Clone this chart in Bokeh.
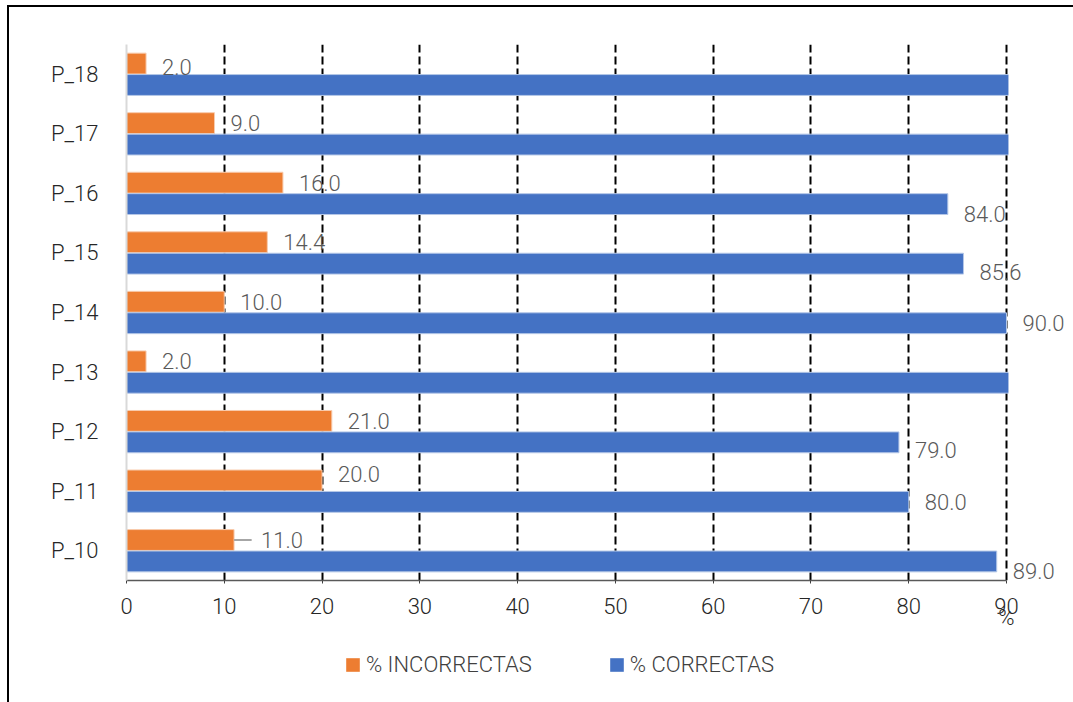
from bokeh.plotting import figure
from bokeh.layouts import column
from bokeh.models import (Range1d, FixedTicker, Legend, LegendItem, ColumnDataSource, LabelSet,
                          LinearAxis, BoxAnnotation)
from bokeh.core.properties import value
from bokeh.embed import file_html
from bokeh.resources import INLINE

categories = ["P_10", "P_11", "P_12", "P_13", "P_14", "P_15", "P_16", "P_17", "P_18"]
incorrectas = [11.0, 20.0, 21.0, 2.0, 10.0, 14.4, 16.0, 9.0, 2.0]
correctas = [89.0, 80.0, 79.0, 98.0, 90.0, 85.6, 84.0, 91.0, 98.0]
x_ticks = [0, 10, 20, 30, 40, 50, 60, 70, 80, 90]
series_names = ["% INCORRECTAS", "% CORRECTAS"]
axis_unit = "%"

# label vertical nudges (screen px), purely cosmetic
inc_nudge = [0, 6, 0, 0, 0, 0, 0, 0, -3]
cor_nudge = [-10, 0, -8, 0, 0, -8, -10, 0, 0]

FONT = "Roboto Light"
ORANGE = "#ED7D31"
BLUE = "#4472C4"
XMAX = 90

W = 1064
PLOT_H = 630
LEG_H = 65
FR_LEFT = 117
FR_TOP = 37
FR_BOTTOM = 573
AX_PX = 880  # pixels from 0 to XMAX
x_end = XMAX * (W - FR_LEFT) / AX_PX

n = len(categories)
ypos = [i + 0.5 for i in range(n)]
off = 0.18
bh = 0.35

p = figure(width=W, height=PLOT_H, output_backend="svg", toolbar_location=None,
           x_range=Range1d(0, x_end), y_range=Range1d(0, n),
           min_border_left=FR_LEFT, min_border_right=0, min_border_top=FR_TOP,
           min_border_bottom=PLOT_H - FR_BOTTOM)
p.outline_line_color = None
p.background_fill_color = "white"
p.border_fill_color = "white"

src_i = ColumnDataSource(dict(y=[v + off for v in ypos], x=incorrectas))
src_c = ColumnDataSource(dict(y=[v - off for v in ypos], x=correctas))
r_i = p.hbar(y="y", right="x", left=0, height=bh, source=src_i, fill_color=ORANGE,
             line_color="#F8CBAD", line_width=1)
r_c = p.hbar(y="y", right="x", left=0, height=bh, source=src_c, fill_color=BLUE,
             line_color="#B4C7E7", line_width=1)

p.segment(x0=[incorrectas[0]], x1=[incorrectas[0] + 1.8], y0=[ypos[0] + off], y1=[ypos[0] + off],
          line_color="#A6A6A6", line_width=2)

# bars beyond the axis maximum are cut at the plot edge, like the original
p.add_layout(BoxAnnotation(left=XMAX + 0.2, fill_color="white", fill_alpha=1.0, line_color=None))

def lbl_src(vals, ys, nudges, extra):
    xs, yy, tt, dy, dx = [], [], [], [], []
    for k, (v, y, nd) in enumerate(zip(vals, ys, nudges)):
        if v <= XMAX:
            xs.append(v); yy.append(y); tt.append(f"{v:.1f}"); dy.append(nd); dx.append(16 + extra.get(k, 0))
    return ColumnDataSource(dict(x=xs, y=yy, t=tt, dy=dy, dx=dx))

for vals, ys, nud, extra in [(incorrectas, [v + off for v in ypos], inc_nudge, {0: 11}),
                             (correctas, [v - off for v in ypos], cor_nudge, {})]:
    p.add_layout(LabelSet(x="x", y="y", text="t", source=lbl_src(vals, ys, nud, extra),
                          x_offset="dx", y_offset="dy", text_font=value(FONT),
                          text_font_size=value("22px"), text_color="#595959",
                          text_align="left", text_baseline="middle"))

p.xaxis.ticker = FixedTicker(ticks=x_ticks)
p.xaxis.bounds = (0, XMAX)
p.xaxis.axis_line_color = "#595959"
p.xaxis.axis_line_width = 1.5
p.xaxis.major_tick_line_color = "#404040"
p.xaxis.major_tick_out = 3
p.xaxis.major_tick_in = 0
p.xaxis.minor_tick_line_color = None
p.xaxis.major_label_text_font = FONT
p.xaxis.major_label_text_font_size = "22px"
p.xaxis.major_label_text_color = "#262626"
p.xaxis.major_label_standoff = 14

ax2 = LinearAxis(ticker=FixedTicker(ticks=[XMAX]), major_label_overrides={XMAX: axis_unit},
                 axis_line_color=None, major_tick_line_color=None, minor_tick_line_color=None,
                 major_label_standoff=-18, major_label_text_font=FONT,
                 major_label_text_font_size="22px", major_label_text_color="#262626")
p.add_layout(ax2, "below")

p.yaxis.ticker = FixedTicker(ticks=ypos)
p.yaxis.major_label_overrides = {v: c for v, c in zip(ypos, categories)}
p.yaxis.axis_line_color = "#D9D9D9"
p.yaxis.axis_line_width = 2
p.yaxis.major_tick_line_color = None
p.yaxis.minor_tick_line_color = None
p.yaxis.major_label_text_font = FONT
p.yaxis.major_label_text_font_size = "22px"
p.yaxis.major_label_text_color = "#262626"
p.yaxis.major_label_standoff = 22

p.xgrid.ticker = FixedTicker(ticks=x_ticks[1:])
p.xgrid.grid_line_color = "black"
p.xgrid.grid_line_dash = "8 4"
p.xgrid.grid_line_width = 2
p.ygrid.grid_line_color = None

# legend strip (its frame is aligned with the main plot's frame by the column layout)
q = figure(width=W, height=LEG_H, output_backend="svg", toolbar_location=None,
           x_range=Range1d(0, 1), y_range=Range1d(0, 1), min_border=0,
           x_axis_type=None, y_axis_type=None)
q.grid.visible = False
q.outline_line_color = None
d_i = q.hbar(y="y", right="x", left=0, height=bh, source=src_i, fill_color=ORANGE,
             line_color=None, visible=False)
d_c = q.hbar(y="y", right="x", left=0, height=bh, source=src_c, fill_color=BLUE,
             line_color=None, visible=False)
legend = Legend(items=[LegendItem(label=series_names[0], renderers=[d_i]),
                       LegendItem(label=series_names[1], renderers=[d_c])],
                orientation="horizontal", location=(218, 25),
                glyph_width=17, glyph_height=17, label_standoff=5, spacing=76,
                label_text_font=FONT, label_text_font_size="22px", label_text_color="#404040",
                border_line_color=None, background_fill_alpha=0, padding=0, margin=0,
                inactive_fill_alpha=0)
q.add_layout(legend, "center")

layout = column(p, q, spacing=0)
layout.margin = (5, 0, 0, 7)
layout.styles = {"border-left": "2px solid #000000", "border-top": "2px solid #000000"}

open("out.html", "w").write(file_html(layout, INLINE))
